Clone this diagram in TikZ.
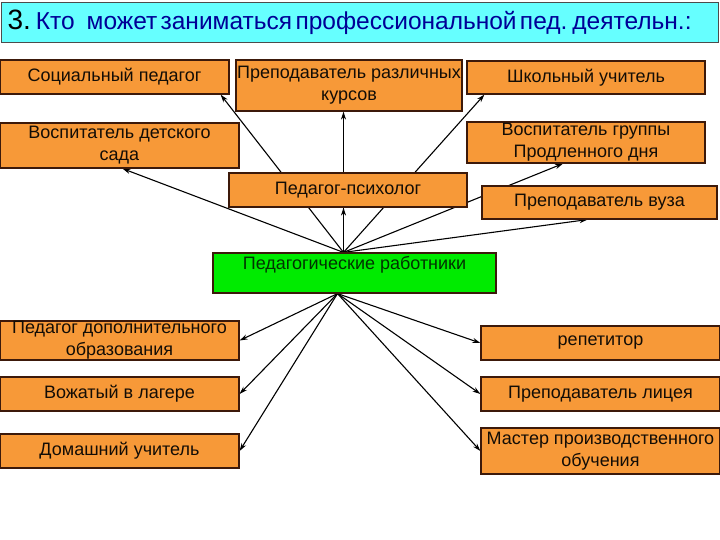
\documentclass[tikz,border=0pt]{standalone}
\usepackage{fontspec}
\setmainfont{Liberation Sans}
\usetikzlibrary{arrows.meta,backgrounds}
\definecolor{boxorange}{RGB}{247,153,56}
\definecolor{boxgreen}{RGB}{0,235,0}
\definecolor{titlecyan}{RGB}{102,255,255}
\definecolor{titleblue}{RGB}{0,0,150}
\definecolor{boxline}{RGB}{60,25,10}
\begin{document}
\begin{tikzpicture}[x=1pt,y=-1pt,
        box/.style={draw=boxline, line width=1.2pt, fill=boxorange, inner sep=0pt,
            align=center, text=black!90!brown, font=\fontsize{18}{22}\selectfont},
        link/.style={-{Stealth[length=8pt,width=5pt]}, line width=1.1pt}]
    \useasboundingbox (0,0) rectangle (720,540);

    \node (title) [draw=black!70, line width=1pt, fill=titlecyan, anchor=north west,
        minimum height=40, text width=705, inner xsep=6pt, align=left] at (1,2)
        {{\fontsize{28}{28}\selectfont 3.}\hspace{5pt}{\fontsize{24.5}{25}\selectfont\color{titleblue}Кто\hspace{12pt}может заниматься профессиональной пед. деятельн.:}};

    \node (soc) [box, minimum width=229, minimum height=34] at (114.5,77) {Социальный педагог};
    \node (kurs) [box, minimum width=226, minimum height=51] at (349,85.5) {Преподаватель различных\\курсов};
    \node (shk) [box, minimum width=238, minimum height=33] at (586,77.5) {Школьный учитель};
    \node (sad) [box, minimum width=239, minimum height=45] at (119.5,145.5) {Воспитатель детского\\сада};
    \node (gpd) [box, minimum width=238, minimum height=41] at (586,142.5) {Воспитатель группы\\Продленного дня};
    \node (psy) [box, minimum width=238, minimum height=34] at (348,190) {Педагог-психолог};
    \node (vuz) [box, minimum width=235, minimum height=33] at (599.5,202.5) {Преподаватель вуза};
    \node (rab) [box, fill=boxgreen, text=black!80!green, minimum width=283, minimum height=40,
        text height=13pt, text depth=21pt, inner ysep=3pt] at (354.5,273) {Педагогические работники};
    \node (dop) [box, minimum width=239, minimum height=39] at (119.5,340.5) {Педагог дополнительного\\образования};
    \node (voz) [box, minimum width=239, minimum height=34] at (119.5,394) {Вожатый в лагере};
    \node (dom) [box, minimum width=239, minimum height=34] at (119.5,451) {Домашний учитель};
    \node (rep) [box, minimum width=239, minimum height=34] at (600.5,343) {репетитор};
    \node (lic) [box, minimum width=239, minimum height=34] at (600.5,394) {Преподаватель лицея};
    \node (mas) [box, minimum width=239, minimum height=46] at (600.5,451) {Мастер производственного\\обучения};

    \coordinate (up) at ([xshift=-11]rab.north);
    \coordinate (dn) at ([xshift=-17]rab.south);

    \begin{scope}[on background layer]
        \fill[white] (0,0) rectangle (720,540);
        \draw[link] (up) -- ([xshift=-9]soc.south east);
        \draw[link] (up) -- (up |- kurs.south);
        \draw[link] (up) -- ([xshift=18]shk.south west);
        \draw[link] (up) -- ([xshift=3]sad.south);
        \draw[link] (up) -- ([xshift=-23]gpd.south);
        \draw[link] (up) -- ([xshift=-12]vuz.south);
        \draw[link] (up) -- (up |- psy.south);
        \draw[link] (dn) -- (dop.east);
        \draw[link] (dn) -- (voz.east);
        \draw[link] (dn) -- (dom.east);
        \draw[link] (dn) -- (rep.west);
        \draw[link] (dn) -- (lic.west);
        \draw[link] (dn) -- (mas.west);
    \end{scope}
\end{tikzpicture}
\end{document}
